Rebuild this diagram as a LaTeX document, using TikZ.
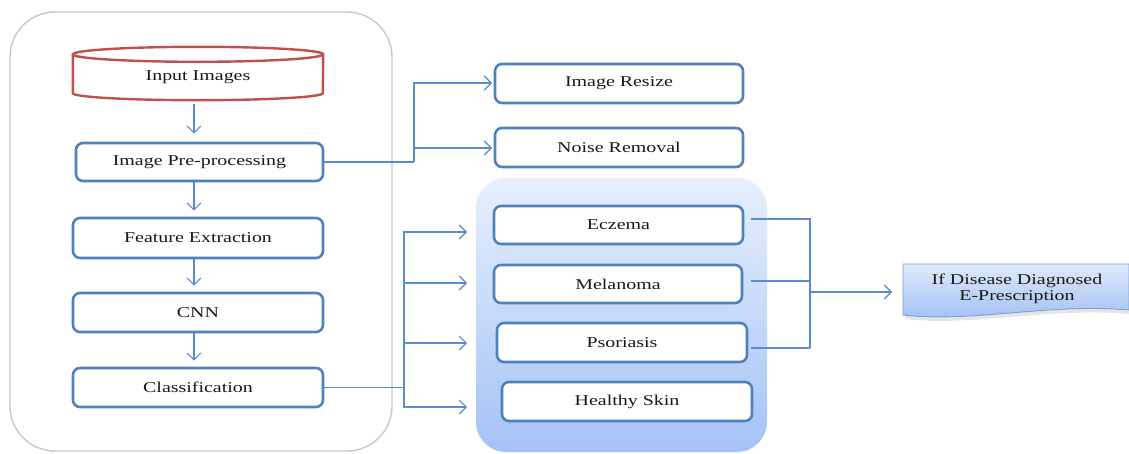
\documentclass[tikz,border=0pt]{standalone}
\usepackage{fontspec}
\setmainfont{Liberation Serif}[FakeStretch=1.33]
\usetikzlibrary{arrows.meta,calc}
\definecolor{boxblue}{HTML}{4F81BD}
\definecolor{linkblue}{HTML}{5A8AD0}
\definecolor{cylred}{HTML}{C0504D}
\definecolor{framegray}{HTML}{C8C8C8}
\definecolor{paneltop}{HTML}{E6F0FD}
\definecolor{panelbot}{HTML}{A4C2F6}
\definecolor{prestop}{HTML}{DFEAFC}
\definecolor{presbot}{HTML}{9EBEF2}
\definecolor{presline}{HTML}{7D9FD3}
\begin{document}
\begin{tikzpicture}[x=1pt,y=-1pt,
  every node/.style={font=\fontsize{15}{16.5}\selectfont, text=black!90},
  stagebox/.style={draw=boxblue, line width=2.6pt, rounded corners=7pt, fill=white, inner sep=0pt},
  link/.style={draw=linkblue, line width=1.1pt},
  arr/.style={link, -{Straight Barb[length=7pt,width=14pt,line width=1.1pt]}},
]
\useasboundingbox (0,0) rectangle (1129,453);
\fill[white] (0,0) rectangle (1129,453);

% outer container
\draw[framegray, line width=1.4pt, rounded corners=45pt] (10,12) rectangle (392,451);

% blue panel
\node[minimum width=291pt, minimum height=274pt, rounded corners=30pt,
      top color=paneltop, bottom color=panelbot, draw=none, inner sep=0pt] (panel) at (621.5,315) {};

% input cylinder
\node[minimum width=250pt, minimum height=53pt, inner sep=0pt] (input) at (198,73.5) {};
\draw[cylred, line width=2.4pt, fill=white]
  ([yshift=-7.5pt]input.north west) -- ([yshift=7pt]input.south west)
  arc[start angle=180, end angle=0, x radius=125, y radius=7]
  -- ([yshift=-7.5pt]input.north east)
  arc[start angle=0, end angle=-180, x radius=125, y radius=7.5] -- cycle;
\draw[cylred, line width=2.4pt] ([yshift=-7.5pt]input.north west)
  arc[start angle=180, end angle=0, x radius=125, y radius=7.5];
\node (inputlabel) at (198,77.5) {Input Images};

% left column boxes
\node[stagebox, minimum width=247pt, minimum height=38pt] (pre) at (199.5,162) {Image Pre-processing};
\node[stagebox, minimum width=250pt, minimum height=40pt] (fe) at (198,238) {Feature Extraction};
\node[stagebox, minimum width=250pt, minimum height=39pt] (cnn) at (198,312.5) {CNN};
\node[stagebox, minimum width=250pt, minimum height=39pt] (cls) at (198,387.5) {Classification};

% preprocessing outputs
\node[stagebox, minimum width=248pt, minimum height=39pt] (resize) at (619,83.5) {Image Resize};
\node[stagebox, minimum width=248pt, minimum height=39pt] (noise) at (619,147.5) {Noise Removal};

% classes
\node[stagebox, minimum width=249pt, minimum height=38pt] (ecz) at (618.5,225) {Eczema};
\node[stagebox, minimum width=248pt, minimum height=38pt] (mel) at (618,284) {Melanoma};
\node[stagebox, minimum width=250pt, minimum height=39pt] (pso) at (622,342.5) {Psoriasis};
\node[stagebox, minimum width=250pt, minimum height=39pt] (hea) at (627,401.5) {Healthy Skin};

% prescription document shape
\fill[black, opacity=0.10] (905,268) -- (1129,268) -- (1129,314)
  .. controls (1050,307) and (970,327) .. (905,319) -- cycle;
\draw[presline, line width=0.9pt, top color=prestop, bottom color=presbot]
  (903,264) -- (1129,264) -- (1129,310)
  .. controls (1050,303) and (970,323) .. (903,315) -- cycle;
\node[align=center] (presc) at (1017,289) {If Disease Diagnosed\\E-Prescription};

% vertical flow arrows
\coordinate (ax) at (194,0);
\draw[arr, shorten <=4pt, shorten >=8pt] (input.south -| ax) -- (pre.north -| ax);
\draw[arr, shorten >=6pt] (pre.south -| ax) -- (fe.north -| ax);
\draw[arr, shorten >=6pt] (fe.south -| ax) -- (cnn.north -| ax);
\draw[arr, shorten >=6pt] (cnn.south -| ax) -- (cls.north -| ax);

% preprocessing branch
\coordinate (b1) at (414,162);
\coordinate (t0) at (492,83);
\coordinate (t00) at (492,148);
\draw[link] (pre.east) -- (b1);
\draw[arr] (b1) |- (t0);
\draw[arr] (b1) |- (t00);

% classification branch
\coordinate (b2) at (404,387.5);
\coordinate (t1) at (467,232);
\coordinate (t2) at (467,283);
\coordinate (t3) at (467,343);
\coordinate (t4) at (467,407);
\draw[link] (cls.east) -- (b2);
\draw[arr] (b2) |- (t1);
\draw[arr] (b2) |- (t2);
\draw[arr] (b2) |- (t3);
\draw[arr] (b2) |- (t4);

% result bracket
\coordinate (rt) at (810,219);
\coordinate (rb) at (810,348);
\draw[link] ([xshift=7pt,yshift=6pt]ecz.east) -- (rt) -- (rb);
\draw[link] ([xshift=8pt,yshift=3pt]mel.east) -- ([yshift=3pt]mel.east -| rt);
\draw[link] ([xshift=3pt,yshift=-5.5pt]pso.east) -- (rb);
\coordinate (pj) at (810,292);
\coordinate (pt) at (892,292);
\draw[arr] (pj) -- (pt);
\end{tikzpicture}
\end{document}
